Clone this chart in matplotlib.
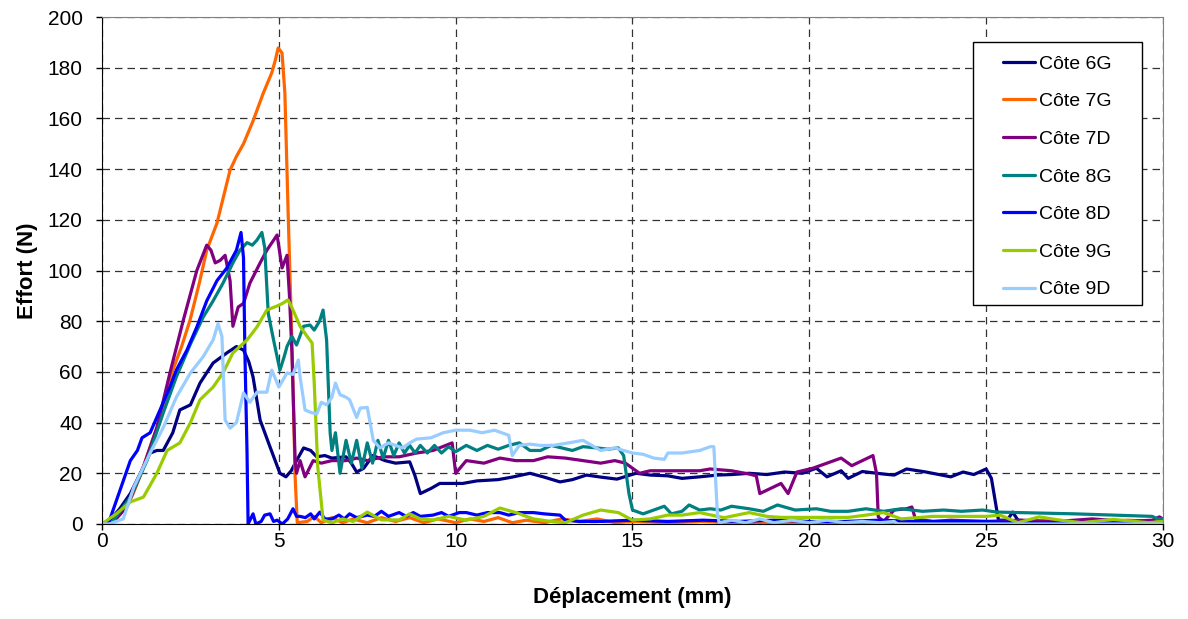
import numpy as np
import matplotlib
matplotlib.use('Agg')
from matplotlib import pyplot as plt
from matplotlib.patches import Rectangle

plt.rcParams['font.family'] = ['Liberation Sans', 'DejaVu Sans']

labels = ['Côte 6G', 'Côte 7G', 'Côte 7D', 'Côte 8G', 'Côte 8D', 'Côte 9G', 'Côte 9D']
colors = ['#000080', '#FF6600', '#800080', '#008080', '#0000FF', '#99CC00', '#99CCFF']

# (deplacement mm, effort N)
cote_6g = [(0, 0), (0.23, 1.6), (0.5, 6), (0.8, 12), (1.17, 22.5), (1.36, 28), (1.55, 29), (1.73, 29),
           (2.0, 36), (2.2, 45), (2.5, 47), (2.77, 55.6), (3.14, 63.5), (3.53, 67.5), (3.8, 70), (4.0, 68.6),
           (4.15, 64), (4.27, 58), (4.47, 41), (4.75, 30.4), (5.03, 20), (5.2, 18.6), (5.35, 21), (5.5, 25),
           (5.7, 30), (5.9, 29), (6.07, 26.5), (6.3, 27), (6.5, 26), (6.9, 26.5), (7.05, 24), (7.2, 20.5),
           (7.4, 22), (7.66, 27), (8.0, 25), (8.3, 24), (8.7, 24.5), (8.85, 19), (9.0, 12), (9.3, 14),
           (9.55, 16), (9.8, 16), (10.2, 16), (10.6, 17), (11.2, 17.5), (11.6, 18.5), (12.1, 20), (12.5, 18.5),
           (12.95, 16.6), (13.3, 17.5), (13.7, 19.3), (14.1, 18.5), (14.56, 17.7), (15.1, 20), (15.5, 19.3),
           (16.0, 19), (16.4, 18), (16.9, 18.6), (17.4, 19.3), (17.8, 19.5), (18.3, 20), (18.8, 19.5),
           (19.3, 20.5), (19.8, 20), (20.2, 22), (20.5, 18.6), (20.9, 21), (21.1, 18), (21.5, 20.7),
           (22.1, 19.7), (22.4, 19.3), (22.75, 21.7), (23.3, 20.5), (24.0, 18.6), (24.35, 20.5), (24.65, 19.5),
           (25.0, 21.7), (25.15, 18), (25.3, 5.5), (25.35, 1.5), (25.6, 1.5), (25.75, 4.7), (25.9, 1.5),
           (26.5, 0.8), (27.5, 0.5), (28.5, 0.5), (30.0, 0.3)]

cote_7g = [(0, 0), (0.3, 1), (0.6, 5.5), (0.85, 11), (1.07, 18.6), (1.3, 28), (1.55, 38), (1.8, 50),
           (2.0, 60.7), (2.25, 70), (2.49, 80.5), (2.75, 95), (2.96, 108), (3.25, 118.7), (3.45, 130),
           (3.62, 139.6), (3.8, 145), (4.0, 150), (4.27, 159), (4.56, 170), (4.8, 178), (4.9, 183),
           (4.98, 187.8), (5.09, 185.8), (5.17, 170), (5.26, 124), (5.37, 71), (5.46, 18.6), (5.52, 0.5),
           (5.8, 1), (6.0, 3), (6.2, 0.5), (6.5, 2.5), (6.8, 0.5), (7.1, 2), (7.5, 0.5), (7.9, 2.5), (8.3, 1),
           (8.7, 2.5), (9.1, 0.5), (9.5, 2), (10, 0.5), (10.4, 2), (10.8, 1), (11.2, 2.5), (11.6, 0.5),
           (12.0, 1.5), (12.5, 0.5), (13, 2), (13.5, 1), (14, 2), (14.5, 0.5), (15, 1), (16, 0.5), (17, 1),
           (18, 0.3), (20, 0.5), (22, 0.3), (24, 0.5), (26, 0.3), (27, 1.5), (28, 0.5), (29, 1.5), (30, 0.8)]

cote_7d = [(0, 0), (0.3, 0.5), (0.7, 6.7), (1.17, 22.5), (1.55, 38), (1.92, 59.6), (2.3, 80.5), (2.68, 100),
           (2.96, 110), (3.08, 108), (3.2, 103), (3.34, 104), (3.48, 106), (3.62, 96), (3.7, 78), (3.85, 85.6),
           (4.0, 87), (4.18, 95), (4.47, 103), (4.66, 108), (4.95, 114), (5.09, 101), (5.23, 106), (5.3, 90),
           (5.37, 67.5), (5.46, 25), (5.5, 20), (5.6, 25), (5.74, 18.6), (5.97, 25), (6.2, 24), (6.5, 25),
           (6.9, 25), (7.2, 26), (7.5, 25), (7.95, 26.5), (8.4, 26.5), (8.9, 28), (9.36, 29), (9.9, 32),
           (10.0, 20), (10.3, 25), (10.8, 24), (11.25, 26), (11.7, 25), (12.2, 25), (12.6, 26.5), (13.1, 26),
           (13.6, 25), (14.1, 24), (14.5, 25), (14.8, 24), (15.2, 20), (15.5, 21), (16.0, 21), (16.4, 21),
           (16.9, 21), (17.2, 21.7), (17.8, 21), (18.3, 19.7), (18.5, 19), (18.6, 12), (18.9, 14), (19.2, 16),
           (19.4, 12), (19.65, 20.5), (20.1, 22), (20.5, 24), (20.9, 26), (21.2, 23), (21.5, 25), (21.8, 27),
           (21.9, 20), (21.95, 2.8), (22.1, 1), (22.4, 5.5), (22.75, 6), (22.9, 6.7), (23.0, 2), (23.5, 1),
           (24, 1.5), (25, 1), (26, 1.5), (27, 1), (28, 2), (29, 1), (29.7, 1.5), (29.9, 2.8), (30, 2)]

cote_8g = [(0, 0), (0.3, 1), (0.8, 10.6), (1.27, 25), (1.73, 43.8), (2.1, 58), (2.5, 71), (2.86, 81.6),
           (3.14, 88), (3.42, 95), (3.7, 103), (3.9, 108), (4.1, 111), (4.25, 110), (4.38, 112), (4.52, 115),
           (4.6, 109), (4.7, 83), (4.85, 72.6), (5.03, 60.7), (5.15, 66), (5.23, 70), (5.37, 74), (5.5, 70.6),
           (5.7, 78), (5.88, 78.5), (6.0, 76.5), (6.15, 80), (6.25, 84.4), (6.35, 72.6), (6.45, 36), (6.5, 29),
           (6.6, 36), (6.73, 20), (6.9, 33), (7.05, 24), (7.2, 33), (7.35, 22), (7.5, 32), (7.65, 24),
           (7.8, 33), (7.95, 26), (8.1, 33), (8.25, 27), (8.4, 32), (8.55, 28), (8.7, 31), (8.85, 28),
           (9.0, 31), (9.2, 28), (9.4, 31), (9.6, 28), (9.8, 30.5), (10.0, 28.5), (10.3, 31), (10.6, 29),
           (10.9, 31), (11.2, 29.5), (11.5, 31), (11.8, 32), (12.1, 29), (12.4, 29), (12.7, 31), (13.0, 30),
           (13.3, 29), (13.6, 30.5), (14.0, 30), (14.3, 29.5), (14.6, 30), (14.75, 27), (14.9, 12), (15.0, 5.5),
           (15.3, 4), (15.6, 5.5), (15.9, 7), (16.1, 4), (16.4, 5), (16.6, 7.5), (16.9, 5.5), (17.2, 6),
           (17.5, 5.5), (17.8, 7), (18.3, 6), (18.7, 5), (19.1, 7.5), (19.6, 5.5), (20.2, 6), (20.6, 5),
           (21.1, 5), (21.6, 6), (22.1, 5), (22.6, 6), (23.2, 5), (23.8, 5.5), (24.3, 5), (24.9, 5.5),
           (25.3, 4.7), (27.5, 4), (29.7, 3), (29.85, 2), (30, 2)]

cote_8d = [(0, 0), (0.2, 1), (0.5, 13), (0.8, 25), (1.0, 29), (1.13, 34), (1.36, 36), (1.64, 45), (1.92, 54),
           (2.1, 60.7), (2.4, 68.6), (2.68, 77.7), (2.96, 88), (3.25, 96), (3.53, 101), (3.8, 108), (3.93, 115),
           (4.0, 105), (4.04, 67.5), (4.1, 28), (4.13, 0), (4.27, 4), (4.35, 0), (4.5, 1), (4.6, 3.5), (4.75, 4),
           (4.85, 1), (4.95, 1.5), (5.1, 0), (5.25, 2), (5.4, 6), (5.5, 3), (5.6, 3), (5.75, 2.5), (5.9, 4),
           (6.0, 2), (6.16, 4.7), (6.3, 2), (6.5, 2), (6.7, 3.5), (6.85, 2), (7.0, 4), (7.2, 2.5), (7.5, 3.5),
           (7.7, 3), (7.9, 5), (8.1, 3), (8.4, 4.5), (8.6, 3), (8.8, 4.5), (9.0, 3), (9.36, 3.5), (9.6, 4.5),
           (9.8, 3), (10.1, 4.5), (10.3, 4.5), (10.6, 3.5), (10.9, 4.5), (11.25, 4.5), (11.5, 3.5), (11.8, 4.5),
           (12.2, 4.5), (12.5, 4), (12.95, 3.5), (13.1, 1.5), (13.5, 1), (14.1, 1), (15, 1.5), (16, 1),
           (17, 1.5), (18, 1), (19, 1.5), (20, 1), (21, 1), (22, 1.5), (23, 1), (24, 1), (25, 1), (26, 0.5),
           (28, 0.3), (30, 0.3)]

cote_9g = [(0, 0), (0.1, 1), (0.4, 4), (0.8, 8.7), (1.17, 10.6), (1.55, 20), (1.84, 29), (2.2, 32), (2.5, 40),
           (2.77, 49), (3.14, 54), (3.42, 59.6), (3.7, 67.5), (4.1, 72.6), (4.38, 77.7), (4.66, 84.4),
           (4.95, 86), (5.1, 87), (5.26, 88.4), (5.4, 84.4), (5.6, 78), (5.8, 74), (5.94, 71.4), (6.0, 55.6),
           (6.1, 22.5), (6.25, 1.6), (6.5, 0.5), (6.8, 2), (7.1, 1), (7.5, 4.7), (7.9, 1.6), (8.4, 1.6),
           (8.7, 4), (9.0, 2), (9.36, 1.6), (9.8, 3), (10.3, 1.5), (10.8, 3), (11.25, 6.3), (11.7, 4.5),
           (12.2, 2), (12.7, 1), (13.1, 0.5), (13.6, 3.5), (14.1, 5.5), (14.6, 4.5), (15.0, 1.5), (15.5, 2),
           (16.0, 3.5), (16.4, 3.5), (16.9, 4.5), (17.4, 3), (17.6, 2.5), (18.3, 4.5), (18.8, 3), (19.2, 2.6),
           (20.2, 2.6), (21.1, 2.6), (21.6, 3.5), (22.1, 4.5), (22.6, 2), (23.5, 3), (24.4, 3), (25.0, 3),
           (25.4, 3.5), (25.9, 0.5), (26.5, 2.8), (27.1, 1.5), (27.7, 0.5), (28.6, 1.8), (29.6, 0.5), (30, 1)]

cote_9d = [(0, 0), (0.2, 0), (0.6, 2), (0.9, 14.6), (1.36, 28), (1.73, 38), (2.1, 50), (2.5, 59.6), (2.86, 66),
           (3.14, 72.6), (3.28, 79), (3.39, 74), (3.48, 41), (3.62, 37.8), (3.8, 40), (4.0, 51.7), (4.18, 48),
           (4.38, 52), (4.66, 52), (4.8, 60.7), (5.0, 54), (5.23, 59.6), (5.4, 59), (5.55, 64.7), (5.6, 58),
           (5.74, 45), (5.9, 44), (6.07, 43.4), (6.2, 48), (6.35, 47), (6.5, 50), (6.6, 55.6), (6.73, 51),
           (6.9, 50), (7.0, 49), (7.2, 42), (7.3, 45.7), (7.5, 46), (7.67, 33), (7.86, 30), (8.1, 32),
           (8.3, 31), (8.5, 30), (8.7, 32), (8.9, 33.5), (9.3, 34), (9.65, 36), (10.0, 37), (10.4, 37),
           (10.75, 36), (11.1, 37), (11.5, 35), (11.6, 27), (11.8, 31), (12.1, 31.5), (12.4, 31), (12.75, 31),
           (13.2, 32), (13.6, 33), (14.1, 29), (14.5, 30), (15.0, 28), (15.3, 27.5), (15.6, 26), (15.9, 25.5),
           (16.0, 28), (16.4, 28), (16.9, 29), (17.2, 30.5), (17.3, 30.5), (17.4, 4.3), (17.45, 0.5),
           (17.8, 1.5), (18.2, 0.5), (18.6, 2), (19.0, 0.5), (19.5, 1.5), (20.0, 0.5), (20.5, 1.5), (21.0, 0.5),
           (21.5, 1), (22.0, 0.5), (22.4, 1), (22.5, 0), (30, 0)]

series = [cote_6g, cote_7g, cote_7d, cote_8g, cote_8d, cote_9g, cote_9d]

W, H = 1188, 619
fig = plt.figure(figsize=(W / 100, H / 100), dpi=100)
ax = fig.add_axes([0.0859, 0.1535, 0.893, 0.819])

for pts, lab, col in zip(series, labels, colors):
    d = np.array(pts)
    ax.plot(d[:, 0], d[:, 1], color=col, lw=2.3, label=lab,
            solid_joinstyle='round', solid_capstyle='round')

ax.set_xlim(0, 30)
ax.set_ylim(0, 200)
ax.set_xticks(np.arange(0, 31, 5))
ax.set_yticks(np.arange(0, 201, 20))
ax.grid(True, color='#333333', linestyle=(0, (6, 4)), lw=0.9)
ax.set_axisbelow(True)

ax.tick_params(direction='out', length=4, width=1, labelsize=15)
ax.tick_params(axis='y', pad=10)
ax.tick_params(axis='x', pad=2)
ax.spines['left'].set_color('black')
ax.spines['bottom'].set_color('black')
ax.spines['top'].set_color('#808080')
ax.spines['right'].set_color('#808080')

ax.set_xlabel('Déplacement (mm)', fontsize=16, fontweight='bold', labelpad=26)
ax.set_ylabel('Effort (N)', fontsize=16, fontweight='bold', labelpad=7)

# legend box like Excel: frame drawn by hand, entries placed inside
box = Rectangle((973 / W, 1 - 305 / H), 169 / W, 263 / H, transform=fig.transFigure,
                facecolor='white', edgecolor='black', lw=1, zorder=4, clip_on=False)
ax.add_patch(box)
leg = ax.legend(loc='upper left', bbox_to_anchor=(1003 / W, 1 - 55 / H), bbox_transform=fig.transFigure,
                fontsize=14, frameon=False, borderpad=0, borderaxespad=0,
                labelspacing=1.03, handlelength=1.65, handletextpad=0.2)
leg.set_zorder(5)

fig.savefig('out.png', dpi=100)
